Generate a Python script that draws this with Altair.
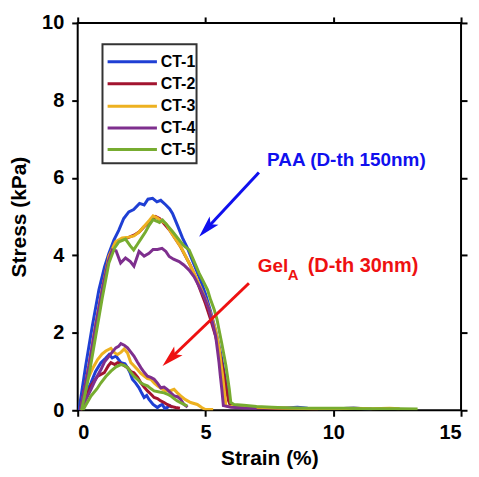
import math
import altair as alt
import pandas as pd

# ---------------- data ----------------
series_names = ["CT-1", "CT-2", "CT-3", "CT-4", "CT-5"]
series_colors = ["#1f3fd4", "#a2142f", "#edb120", "#7e2f8e", "#77ac30"]

# PAA (D-th 150nm) curves
ct1_paa_x = [0.05, 0.31, 0.57, 0.83, 1.05, 1.22, 1.42, 1.61, 1.8, 2.0, 2.19, 2.42, 2.6, 2.75, 2.93, 3.1, 3.25, 3.45, 3.6, 3.71, 3.9, 4.1, 4.3, 4.5, 4.75, 5.0, 5.2, 5.4, 5.6, 5.75, 5.88, 5.97, 6.1, 6.6, 7.2, 8.0, 8.6, 9.0, 9.5, 10.2, 10.8, 11.2, 11.5]
ct1_paa_y = [0.0, 1.14, 2.17, 3.11, 3.7, 4.05, 4.4, 4.65, 4.95, 5.12, 5.18, 5.34, 5.3, 5.45, 5.47, 5.38, 5.42, 5.3, 5.2, 5.08, 4.78, 4.45, 4.18, 3.85, 3.45, 3.0, 2.55, 2.05, 1.45, 0.9, 0.4, 0.15, 0.1, 0.08, 0.06, 0.05, 0.08, 0.05, 0.04, 0.04, 0.06, 0.04, 0.03]

ct2_paa_x = [0.1, 0.44, 0.7, 0.96, 1.22, 1.48, 1.74, 1.95, 2.2, 2.4, 2.6, 2.8, 3.05, 3.2, 3.4, 3.6, 3.8, 4.0, 4.2, 4.4, 4.6, 4.8, 5.0, 5.2, 5.4, 5.55, 5.7, 5.8, 5.9, 5.98, 6.1, 6.6, 7.2, 8.0, 8.8, 9.4]
ct2_paa_y = [0.0, 1.14, 2.17, 3.11, 3.97, 4.31, 4.42, 4.45, 4.52, 4.6, 4.74, 4.85, 5.0, 4.95, 4.8, 4.65, 4.45, 4.25, 4.0, 3.75, 3.45, 3.1, 2.75, 2.35, 1.9, 1.5, 1.0, 0.6, 0.25, 0.12, 0.1, 0.08, 0.06, 0.05, 0.04, 0.03]

ct3_paa_x = [0.12, 0.44, 0.7, 0.96, 1.22, 1.48, 1.74, 2.0, 2.2, 2.4, 2.6, 2.8, 2.95, 3.1, 3.25, 3.45, 3.65, 3.85, 4.05, 4.23, 4.42, 4.62, 4.82, 5.01, 5.15, 5.27, 5.38, 5.47, 5.55, 5.6, 5.67, 5.73, 5.8, 5.9, 6.3, 7.0, 7.8, 8.5, 9.2, 10.0, 10.8, 11.5, 12.2, 12.6]
ct3_paa_y = [0.0, 1.14, 2.17, 3.11, 3.97, 4.35, 4.45, 4.47, 4.5, 4.6, 4.75, 4.9, 5.02, 4.97, 4.9, 4.82, 4.6, 4.4, 4.2, 3.97, 3.72, 3.45, 3.15, 2.85, 2.6, 2.34, 2.1, 1.83, 1.55, 1.23, 0.9, 0.54, 0.12, 0.1, 0.1, 0.08, 0.06, 0.05, 0.04, 0.04, 0.05, 0.04, 0.05, 0.04]

ct4_paa_x = [0.1, 0.44, 0.7, 0.96, 1.2, 1.35, 1.5, 1.68, 1.87, 2.06, 2.2, 2.4, 2.6, 2.79, 2.95, 3.12, 3.3, 3.45, 3.58, 3.75, 3.97, 4.15, 4.36, 4.55, 4.75, 4.95, 5.14, 5.28, 5.4, 5.47, 5.53, 5.58, 5.64, 5.7, 6.0, 6.5, 7.0]
ct4_paa_y = [0.0, 1.14, 2.17, 3.11, 3.85, 4.14, 4.12, 3.8, 3.93, 3.84, 3.72, 4.1, 3.98, 4.05, 4.15, 4.15, 4.18, 4.1, 3.97, 3.9, 3.84, 3.75, 3.62, 3.45, 3.2, 2.92, 2.6, 2.25, 1.91, 1.55, 1.23, 0.9, 0.54, 0.12, 0.08, 0.06, 0.05]

ct5_paa_x = [0.15, 0.44, 0.7, 0.96, 1.22, 1.45, 1.61, 1.87, 2.05, 2.19, 2.35, 2.5, 2.65, 2.8, 2.95, 3.1, 3.2, 3.32, 3.5, 3.7, 3.97, 4.15, 4.36, 4.55, 4.75, 4.92, 5.08, 5.2, 5.34, 5.45, 5.53, 5.63, 5.73, 5.8, 5.86, 5.93, 5.99, 6.12, 6.5, 7.0, 7.6, 8.3, 9.0, 9.8, 10.5, 11.2, 11.9, 12.6, 13.3]
ct5_paa_y = [0.0, 0.9, 1.9, 2.9, 3.8, 4.2, 4.35, 4.42, 4.25, 4.14, 4.3, 4.45, 4.6, 4.78, 4.92, 4.88, 4.85, 4.91, 4.78, 4.62, 4.4, 4.25, 4.14, 3.85, 3.54, 3.32, 3.11, 2.85, 2.6, 2.35, 2.08, 1.75, 1.4, 1.15, 0.88, 0.55, 0.2, 0.15, 0.13, 0.1, 0.08, 0.06, 0.05, 0.05, 0.05, 0.04, 0.04, 0.04, 0.03]

# Gel_A (D-th 30nm) curves
ct1_gel_x = [0.05, 0.3, 0.52, 0.7, 0.91, 1.1, 1.23, 1.35, 1.5, 1.69, 1.85, 1.95, 2.06, 2.14, 2.27, 2.4, 2.5, 2.6, 2.7, 2.79, 2.95, 3.12, 3.22, 3.31, 3.4, 3.5, 3.6, 3.7]
ct1_gel_y = [0.0, 0.4, 0.71, 1.0, 1.23, 1.35, 1.44, 1.35, 1.4, 1.23, 1.2, 1.1, 0.95, 0.8, 0.7, 0.58, 0.45, 0.33, 0.38, 0.28, 0.15, 0.07, 0.12, 0.15, 0.05, 0.07, 0.12, 0.08]

ct2_gel_x = [0.1, 0.3, 0.52, 0.78, 1.04, 1.2, 1.3, 1.45, 1.56, 1.75, 1.95, 2.08, 2.2, 2.35, 2.47, 2.6, 2.73, 2.86, 2.99, 3.12, 3.25, 3.38, 3.5, 3.65, 3.83, 4.0]
ct2_gel_y = [0.0, 0.3, 0.63, 0.88, 0.97, 1.15, 1.23, 1.18, 1.23, 1.18, 1.1, 1.0, 0.97, 0.85, 0.71, 0.6, 0.5, 0.42, 0.33, 0.3, 0.24, 0.2, 0.15, 0.1, 0.07, 0.05]

ct3_gel_x = [0.15, 0.39, 0.6, 0.78, 0.95, 1.1, 1.3, 1.45, 1.56, 1.7, 1.82, 1.95, 2.08, 2.2, 2.34, 2.47, 2.6, 2.73, 2.86, 3.0, 3.12, 3.3, 3.44, 3.6, 3.77, 3.9, 4.03, 4.2, 4.42, 4.68, 4.85, 5.0, 5.3]
ct3_gel_y = [0.0, 0.8, 1.1, 1.31, 1.45, 1.53, 1.6, 1.48, 1.44, 1.5, 1.58, 1.48, 1.23, 1.15, 1.05, 0.95, 0.88, 0.82, 0.8, 0.7, 0.63, 0.55, 0.5, 0.5, 0.54, 0.45, 0.37, 0.28, 0.2, 0.15, 0.07, 0.02, 0.02]

ct4_gel_x = [0.1, 0.3, 0.52, 0.7, 0.91, 1.05, 1.23, 1.35, 1.49, 1.6, 1.69, 1.82, 1.95, 2.08, 2.2, 2.33, 2.47, 2.6, 2.73, 2.86, 2.99, 3.12, 3.25, 3.38, 3.5, 3.64, 3.77, 3.9, 4.03, 4.16, 4.3]
ct4_gel_y = [0.0, 0.25, 0.54, 0.8, 1.05, 1.25, 1.4, 1.5, 1.61, 1.65, 1.72, 1.68, 1.61, 1.5, 1.4, 1.25, 1.1, 0.98, 0.88, 0.85, 0.8, 0.7, 0.58, 0.6, 0.54, 0.45, 0.37, 0.35, 0.28, 0.15, 0.08]

ct5_gel_x = [0.2, 0.52, 0.75, 0.91, 1.1, 1.3, 1.5, 1.69, 1.82, 1.95, 2.08, 2.2, 2.34, 2.47, 2.6, 2.73, 2.86, 2.99, 3.2, 3.38, 3.5, 3.64, 3.77, 3.9, 4.1, 4.29]
ct5_gel_y = [0.0, 0.37, 0.55, 0.71, 0.87, 1.01, 1.12, 1.18, 1.16, 1.1, 0.98, 0.88, 0.8, 0.71, 0.66, 0.63, 0.56, 0.5, 0.47, 0.45, 0.42, 0.37, 0.3, 0.24, 0.17, 0.11]

x_ticks = [0, 5, 10, 15]
y_ticks = [0, 2, 4, 6, 8, 10]

# ---------------- layout ----------------
W, H = 385, 389
X_MAX, Y_MAX = 15, 10
FONT = "Liberation Sans"

curves = [
    ("CT-1", "PAA", ct1_paa_x, ct1_paa_y), ("CT-1", "Gel", ct1_gel_x, ct1_gel_y),
    ("CT-2", "PAA", ct2_paa_x, ct2_paa_y), ("CT-2", "Gel", ct2_gel_x, ct2_gel_y),
    ("CT-3", "PAA", ct3_paa_x, ct3_paa_y), ("CT-3", "Gel", ct3_gel_x, ct3_gel_y),
    ("CT-4", "PAA", ct4_paa_x, ct4_paa_y), ("CT-4", "Gel", ct4_gel_x, ct4_gel_y),
    ("CT-5", "PAA", ct5_paa_x, ct5_paa_y), ("CT-5", "Gel", ct5_gel_x, ct5_gel_y),
]
rows = []
for s, g, xs, ys in curves:
    for i, (xv, yv) in enumerate(zip(xs, ys)):
        rows.append({"series": s, "group": s + g, "i": i, "x": xv, "y": yv})
df = pd.DataFrame(rows)

xscale = alt.Scale(domain=[0, X_MAX], nice=False, zero=False)
yscale = alt.Scale(domain=[0, Y_MAX], nice=False, zero=False)
cscale = alt.Scale(domain=series_names, range=series_colors)

axis_common = dict(labelFont=FONT, titleFont=FONT, labelFontWeight="bold", titleFontWeight="bold",
                   labelColor="black", titleColor="black", tickColor="black", grid=False,
                   tickSize=6, tickWidth=2, domain=False)

lines = alt.Chart(df).mark_line(strokeWidth=3, clip=True).encode(
    x=alt.X("x:Q", scale=xscale, axis=alt.Axis(
        values=x_ticks, title="Strain (%)", labelFontSize=20, titleFontSize=21,
        labelPadding=6, titlePadding=5, **axis_common)),
    y=alt.Y("y:Q", scale=yscale, axis=alt.Axis(
        values=y_ticks, title="Stress (kPa)", labelFontSize=20, titleFontSize=21,
        labelPadding=8, titlePadding=12, **axis_common)),
    color=alt.Color("series:N", scale=cscale, legend=None),
    detail="group:N",
    order="i:Q",
)

# mirrored ticks on top and right
mirror = alt.Chart(pd.DataFrame({"x": [0, X_MAX], "y": [0, Y_MAX]})).mark_point(opacity=0).encode(
    x=alt.X("x:Q", scale=xscale, axis=alt.Axis(orient="top", values=x_ticks, labels=False, title=None,
                                               tickSize=6, tickWidth=2, tickColor="black",
                                               domain=False, grid=False)),
    y=alt.Y("y:Q", scale=yscale, axis=alt.Axis(orient="right", values=y_ticks, labels=False, title=None,
                                               tickSize=6, tickWidth=2, tickColor="black",
                                               domain=False, grid=False)),
)

# ---------------- legend (manual, in data units) ----------------
leg_box = pd.DataFrame({"x": [0.97], "x2": [4.65], "y": [9.45], "y2": [6.38]})
legend_box = alt.Chart(leg_box).mark_rect(fill="white", stroke="#333333", strokeWidth=2).encode(
    x=alt.X("x:Q", scale=xscale, axis=None), x2="x2",
    y=alt.Y("y:Q", scale=yscale, axis=None), y2="y2")
leg_rows = pd.DataFrame({
    "series": series_names,
    "y": [9.0, 8.43, 7.85, 7.29, 6.73],
    "x1": [1.17] * 5, "x2": [3.1] * 5, "xt": [3.25] * 5,
})
legend_lines = alt.Chart(leg_rows).mark_rule(strokeWidth=3).encode(
    x=alt.X("x1:Q", scale=xscale, axis=None), x2="x2",
    y=alt.Y("y:Q", scale=yscale, axis=None),
    color=alt.Color("series:N", scale=cscale, legend=None))
legend_text = alt.Chart(leg_rows).mark_text(align="left", baseline="middle", font=FONT,
                                           fontWeight="bold", fontSize=16, color="black").encode(
    x=alt.X("xt:Q", scale=xscale, axis=None),
    y=alt.Y("y:Q", scale=yscale, axis=None),
    text="series:N")

# ---------------- annotations ----------------
ann_text = pd.DataFrame({
    "x": [7.41, 7.05, 8.22, 9.0],
    "y": [6.45, 3.57, 3.37, 3.57],
    "t": ["PAA (D-th 150nm)", "Gel", "A", "(D-th 30nm)"],
    "c": ["#1010ee", "#ee1111", "#ee1111", "#ee1111"],
    "s": [19, 19, 15, 20],
    "b": ["middle", "alphabetic", "alphabetic", "alphabetic"],
})
texts = []
for _, r in ann_text.iterrows():
    texts.append(alt.Chart(pd.DataFrame([r])).mark_text(
        align="left", baseline=r["b"], font=FONT, fontWeight="bold",
        fontSize=int(r["s"]), color=r["c"]).encode(
        x=alt.X("x:Q", scale=xscale, axis=None),
        y=alt.Y("y:Q", scale=yscale, axis=None),
        text="t:N"))

arrows_def = [
    # tail x, tail y, tip x, tip y, colour
    (7.09, 6.14, 4.75, 4.48, "#1010ee"),
    (6.70, 3.28, 3.32, 1.14, "#ee1111"),
]
HEAD_R = 11  # px, half-length of arrow head
arrow_layers = []
for tx, ty, hx, hy, col in arrows_def:
    dxp = (hx - tx) * W / X_MAX
    dyp = -(hy - ty) * H / Y_MAX
    L = math.hypot(dxp, dyp)
    ux, uy = dxp / L, dyp / L
    ang = math.degrees(math.atan2(dxp, -dyp)) % 360
    cx = hx - ux * HEAD_R * X_MAX / W
    cy = hy + uy * HEAD_R * Y_MAX / H
    seg = pd.DataFrame({"x": [tx], "y": [ty], "x2": [cx], "y2": [cy]})
    arrow_layers.append(alt.Chart(seg).mark_rule(strokeWidth=3, color=col).encode(
        x=alt.X("x:Q", scale=xscale, axis=None), x2="x2",
        y=alt.Y("y:Q", scale=yscale, axis=None), y2="y2"))
    head = pd.DataFrame({"x": [cx], "y": [cy]})
    arrow_layers.append(alt.Chart(head).mark_point(
        shape="M0,-1L0.55,1L0,0.55L-0.55,1Z", filled=True, opacity=1, color=col,
        size=(2 * HEAD_R) ** 2, angle=ang, strokeWidth=0).encode(
        x=alt.X("x:Q", scale=xscale, axis=None),
        y=alt.Y("y:Q", scale=yscale, axis=None)))

chart = alt.layer(
    lines, mirror, legend_box, legend_lines, legend_text, *arrow_layers, *texts
).resolve_axis(x="independent", y="independent").properties(
    width=W, height=H,
    background="white",
    autosize=alt.AutoSizeParams(type="none"),
    padding={"left": 70, "top": 14, "right": 10, "bottom": 60},
).configure_view(stroke="black", strokeWidth=2)

chart.save("out.html", embed_options={"renderer": "svg", "actions": False})
